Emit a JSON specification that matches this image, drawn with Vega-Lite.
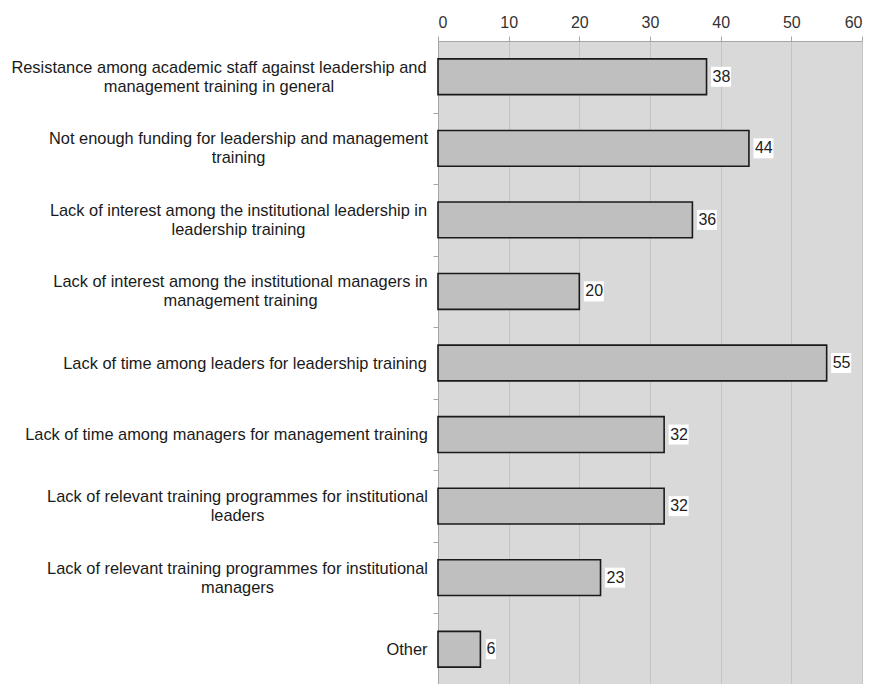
{
  "$schema": "https://vega.github.io/schema/vega-lite/v6.json",
  "width": 424,
  "height": 644,
  "autosize": {"type": "none"},
  "padding": {"left": 438, "top": 41, "right": 12, "bottom": 0},
  "background": "white",
  "config": {
    "view": {"fill": "#d9d9d9", "stroke": "#a6a6a6", "strokeWidth": 1},
    "font": "Liberation Sans"
  },
  "data": {
    "values": [
      {"reason": "Resistance among academic staff against leadership and|management training in general", "count": 38},
      {"reason": "Not enough funding for leadership and management|training", "count": 44},
      {"reason": "Lack of interest among the institutional leadership in|leadership training", "count": 36},
      {"reason": "Lack of interest among the institutional managers in|management training", "count": 20},
      {"reason": "Lack of time among leaders for leadership training", "count": 55},
      {"reason": "Lack of time among managers for management training", "count": 32},
      {"reason": "Lack of relevant training programmes for institutional|leaders", "count": 32},
      {"reason": "Lack of relevant training programmes for institutional|managers", "count": 23},
      {"reason": "Other", "count": 6}
    ]
  },
  "encoding": {
    "y": {
      "field": "reason",
      "type": "nominal",
      "sort": null,
      "scale": {"paddingInner": 0.5, "paddingOuter": 0.25},
      "axis": {
        "orient": "left",
        "title": null,
        "grid": false,
        "domain": true,
        "domainColor": "#a6a6a6",
        "ticks": true,
        "tickOffset": 35.8,
        "tickSize": 5,
        "tickColor": "#a6a6a6",
        "labelOffset": {
          "condition": {"test": "indexof(datum.value, '|') > 0", "value": -45.3},
          "value": -35.8
        },
        "labelExpr": "split(datum.value, '|')",
        "labelAlign": "center",
        "labelBaseline": "middle",
        "labelFontSize": 16.4,
        "labelColor": "#1a1a1a",
        "labelLineHeight": 19,
        "labelLimit": 0,
        "labelPadding": {
          "condition": [
            {"test": "indexof(datum.value, 'Resistance') == 0", "value": 214.5},
            {"test": "indexof(datum.value, 'Not enough') == 0", "value": 195},
            {"test": "indexof(datum.value, 'leadership in') > 0", "value": 195},
            {"test": "indexof(datum.value, 'managers in') > 0", "value": 193},
            {"test": "indexof(datum.value, 'among leaders') > 0", "value": 188.5},
            {"test": "indexof(datum.value, 'among managers') > 0", "value": 207},
            {"test": "indexof(datum.value, 'programmes') > 0", "value": 196}
          ],
          "value": 26.5
        }
      }
    }
  },
  "layer": [
    {
      "mark": {"type": "bar", "color": "#bfbfbf", "stroke": "#1a1a1a", "strokeWidth": 1.6},
      "encoding": {
        "x": {
          "field": "count",
          "type": "quantitative",
          "scale": {"domain": [0, 60], "nice": false},
          "axis": {
            "orient": "top",
            "title": null,
            "values": [0, 10, 20, 30, 40, 50, 60],
            "grid": true,
            "gridColor": "#c4c4c4",
            "gridWidth": 1,
            "domain": true,
            "domainColor": "#a6a6a6",
            "tickColor": "#a6a6a6",
            "tickSize": 5,
            "labelFontSize": 16,
            "labelColor": "#333333",
            "labelPadding": 6
          }
        }
      }
    },
    {
      "transform": [{"filter": "datum.count >= 10"}],
      "mark": {"type": "point", "filled": true, "color": "white", "opacity": 1, "size": 400, "shape": "M0.45,-1L2.45,-1L2.45,1L0.45,1Z"},
      "encoding": {
        "x": {"field": "count", "type": "quantitative"}
      }
    },
    {
      "transform": [{"filter": "datum.count < 10"}],
      "mark": {"type": "point", "filled": true, "color": "white", "opacity": 1, "size": 400, "shape": "M0.55,-1L1.55,-1L1.55,1L0.55,1Z"},
      "encoding": {
        "x": {"field": "count", "type": "quantitative"}
      }
    },
    {
      "mark": {"type": "text", "align": "left", "baseline": "middle", "dx": 6, "fontSize": 16, "fill": "#222222"},
      "encoding": {
        "x": {"field": "count", "type": "quantitative"},
        "text": {"field": "count", "type": "quantitative"}
      }
    }
  ]
}
